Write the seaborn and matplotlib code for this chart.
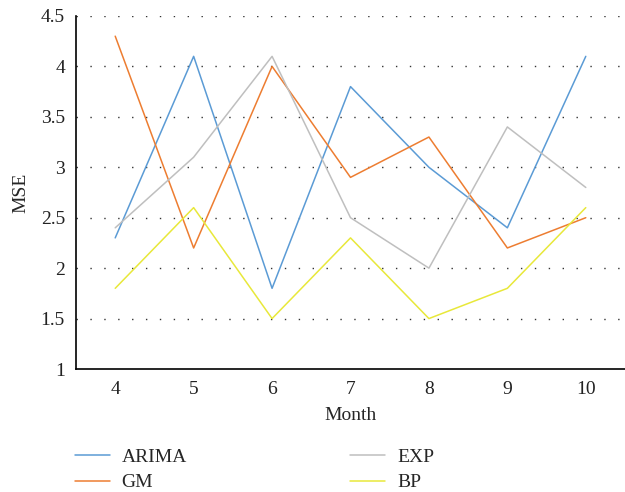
import matplotlib
matplotlib.use("Agg")
import matplotlib.pyplot as plt
import seaborn as sns
import pandas as pd

months = [4, 5, 6, 7, 8, 9, 10]
arima = [2.3, 4.1, 1.8, 3.8, 3.0, 2.4, 4.1]
gm = [4.3, 2.2, 4.0, 2.9, 3.3, 2.2, 2.5]
exp_ = [2.4, 3.1, 4.1, 2.5, 2.0, 3.4, 2.8]
bp = [1.8, 2.6, 1.5, 2.3, 1.5, 1.8, 2.6]
series_names = ["ARIMA", "GM", "EXP", "BP"]
colors = ["#5B9BD5", "#ED7D31", "#BFBFBF", "#E8E83A"]
yticks = [1, 1.5, 2, 2.5, 3, 3.5, 4, 4.5]
ytick_labels = ["1", "1.5", "2", "2.5", "3", "3.5", "4", "4.5"]

rows = []
for name, vals in zip(series_names, [arima, gm, exp_, bp]):
    for m, v in zip(months, vals):
        rows.append({"Month": m, "MSE": v, "Model": name})
df = pd.DataFrame(rows)

sns.set_style("white")
plt.rcParams["font.family"] = ["Liberation Serif", "DejaVu Serif"]

fig = plt.figure(figsize=(6.25, 4.92), dpi=100)
ax = fig.add_axes([76/625, 1 - 369/492, 1 - 76/625, (369 - 16)/492])

sns.lineplot(data=df, x="Month", y="MSE", hue="Model", palette=colors,
             hue_order=series_names, ax=ax, linewidth=1.1, legend=False)

ax.set_xlim(3.5, 10.5)
ax.set_ylim(1, 4.5)
ax.set_xticks(months)
ax.set_xticklabels([str(m) for m in months])
ax.set_yticks(yticks)
ax.set_yticklabels(ytick_labels)
ax.tick_params(axis="both", length=0, labelsize=14, colors="#222222")
ax.tick_params(axis="x", pad=9)
ax.tick_params(axis="y", pad=8)
for y in yticks[1:]:
    ax.axhline(y, color="#333333", linestyle=(0, (1, 9)), linewidth=1.0, zorder=0)
for s in ["top", "right"]:
    ax.spines[s].set_visible(False)
for s in ["left", "bottom"]:
    ax.spines[s].set_color("black")
    ax.spines[s].set_linewidth(1.2)
ax.set_xlabel("Month", fontsize=14, labelpad=6)
ax.set_ylabel("MSE", fontsize=14, labelpad=8)

handles = [plt.Line2D([], [], color=c, linewidth=1.1) for c in colors]
fig.legend(handles, series_names,
           ncol=2, loc="upper left", bbox_to_anchor=(75/625, 1 - 448/492),
           frameon=False, fontsize=14, handlelength=1.8, handletextpad=0.6,
           columnspacing=8.4, labelspacing=0.42, borderpad=0, borderaxespad=0)

fig.savefig("out.png", dpi=100)
